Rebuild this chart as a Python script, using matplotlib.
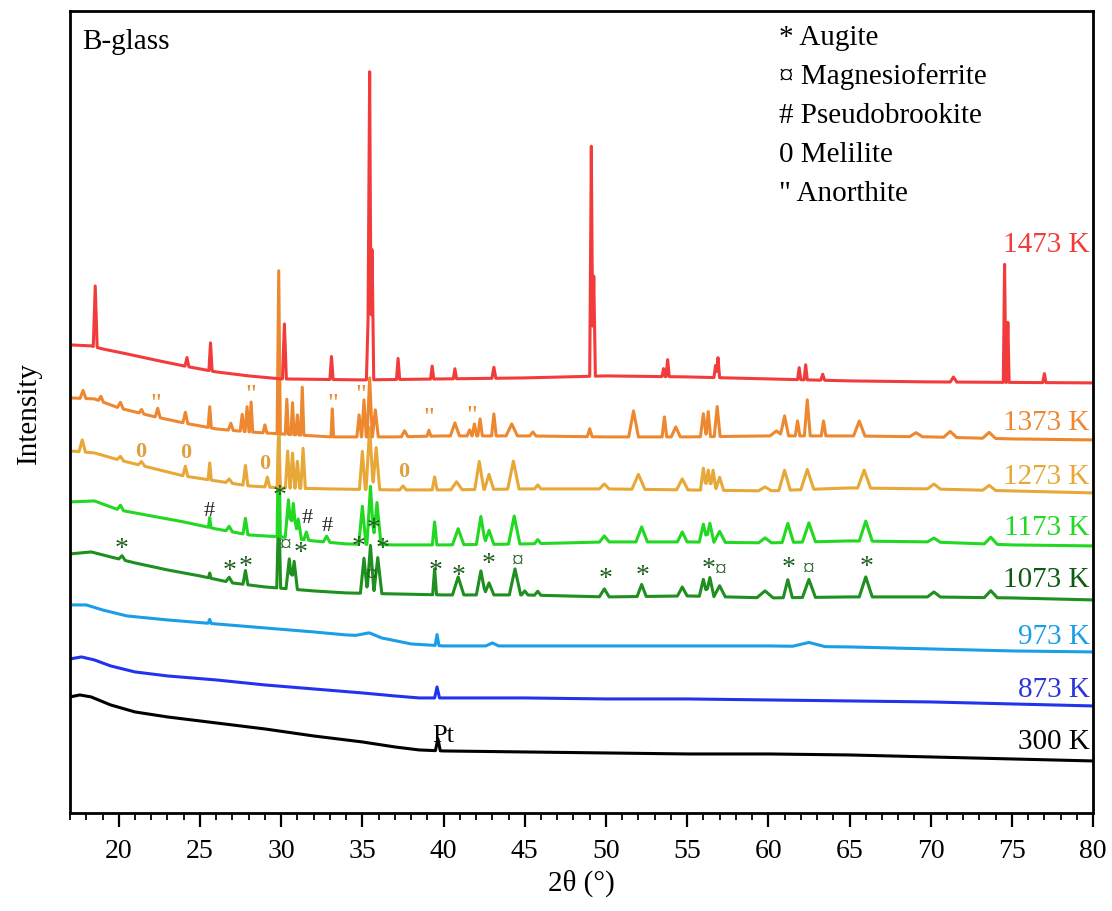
import numpy as np
import matplotlib
matplotlib.use('Agg')
import matplotlib.pyplot as plt
from matplotlib.ticker import MultipleLocator

plt.rcParams['font.family'] = ['Liberation Serif', 'DejaVu Serif']

# ---- data (2theta in degrees, intensity in arbitrary offset units) ----
temps = ['300 K', '873 K', '973 K', '1073 K', '1173 K', '1273 K', '1373 K', '1473 K']

# baselines: (2theta, intensity) anchor points
base_300 = [(17, 116), (17.6, 118), (18.3, 116), (19.5, 108), (21, 101), (23, 96), (26, 90), (29, 84),
            (32, 77), (35, 71), (37, 66), (38.5, 63), (40, 62), (45, 61), (50, 60), (55, 59), (60, 59),
            (65, 58), (70, 56), (75, 54), (80, 52)]
base_873 = [(17, 154), (17.7, 156), (18.5, 153), (19.5, 147), (21, 141), (23, 137), (26, 133), (29, 128),
            (32, 124), (35, 120), (37, 117), (38.5, 115), (40, 115), (45, 115), (50, 114), (55, 114),
            (60, 113), (65, 112), (70, 111), (75, 109), (80, 107)]
base_973 = [(17, 208), (18, 208), (19, 203), (20.5, 197), (23, 193), (26, 189), (29, 185), (32, 181),
            (34, 178), (35.5, 177), (36.5, 174), (38, 169), (40, 167), (45, 167), (50, 167), (55, 167),
            (60, 167), (65, 166), (70, 164), (75, 162), (80, 161)]
base_1073 = [(17, 259), (18.3, 261), (19.5, 256), (21, 250), (23, 243), (25, 237), (27, 230), (29, 226),
             (32, 222), (34, 220), (37, 219), (40, 218), (45, 218), (50, 216), (55, 217), (60, 215),
             (65, 216), (70, 216), (75, 215), (80, 213)]
base_1173 = [(17, 311), (18.5, 312), (20, 303), (22, 297), (24, 291), (26, 284), (28, 278), (30, 276),
             (32, 272), (34, 269), (37, 268), (40, 268), (45, 269), (50, 271), (55, 271), (60, 270),
             (65, 272), (70, 271), (75, 268), (80, 267)]
base_1273 = [(17, 362), (18.5, 360), (20, 353), (22, 345), (24, 337), (26, 332), (28, 327), (30, 325),
             (33, 324), (37, 323), (40, 323), (45, 324), (50, 324), (55, 323), (60, 322), (65, 325),
             (70, 324), (75, 322), (80, 320)]
base_1373 = [(17, 415), (18.5, 414), (20, 405), (22, 397), (24, 390), (26, 384), (28, 381), (30, 379),
             (33, 376), (37, 376), (40, 377), (45, 377), (50, 376), (55, 376), (60, 377), (65, 377),
             (70, 376), (75, 374), (80, 373)]
base_1473 = [(17, 468), (18.3, 467), (19, 464), (20.5, 459), (22.5, 452), (24, 447), (26, 441), (28, 437),
             (30, 434), (35, 433), (40, 434), (45, 435), (50, 437), (55, 436), (60, 434), (65, 432),
             (70, 431), (80, 430)]

# peaks: (2theta, height above baseline, half width)
peaks_300 = [(39.65, 12, 0.15)]
peaks_873 = [(39.6, 11, 0.15)]
peaks_973 = [(25.6, 4, 0.1), (35.4, 3, 0.8), (39.6, 11, 0.12), (43.0, 3, 0.4), (62.5, 4, 1.0)]
peaks_1073 = [(20.2, 4, 0.2), (25.6, 5, 0.08), (26.8, 5, 0.2), (27.8, 14, 0.15), (29.85, 83, 0.12),
              (30.5, 30, 0.2), (30.8, 28, 0.2), (35.1, 35, 0.22), (35.5, 48, 0.22), (35.95, 36, 0.25),
              (39.45, 26, 0.12), (40.9, 18, 0.35), (42.3, 24, 0.28), (42.8, 12, 0.3), (44.4, 26, 0.35),
              (45.0, 4, 0.2), (45.8, 4, 0.2), (49.9, 8, 0.3), (52.2, 12, 0.28), (54.7, 9, 0.3),
              (56.0, 17, 0.25), (56.4, 19, 0.25), (57.0, 11, 0.35), (59.8, 7, 0.5), (61.2, 18, 0.28),
              (62.5, 18, 0.4), (66.0, 20, 0.4), (70.2, 5, 0.4), (73.7, 7, 0.4)]
peaks_1173 = [(20.1, 5, 0.2), (25.6, 10, 0.08), (26.8, 5, 0.2), (27.8, 16, 0.15), (29.85, 115, 0.1),
              (30.45, 38, 0.2), (30.75, 35, 0.2), (31.05, 20, 0.2), (31.55, 8, 0.15), (32.8, 6, 0.2),
              (35.0, 38, 0.22), (35.5, 58, 0.22), (35.9, 42, 0.25), (39.45, 23, 0.14), (40.9, 16, 0.35),
              (42.3, 28, 0.28), (42.8, 14, 0.3), (44.35, 28, 0.35), (45.8, 4, 0.2), (49.9, 6, 0.3),
              (52.2, 15, 0.35), (54.7, 10, 0.3), (56.0, 18, 0.25), (56.4, 19, 0.25), (57.0, 11, 0.35),
              (59.8, 5, 0.4), (61.2, 19, 0.35), (62.5, 19, 0.4), (66.0, 20, 0.4), (70.2, 4, 0.4),
              (73.7, 7, 0.4)]
peaks_1273 = [(17.75, 12, 0.2), (20.1, 4, 0.2), (21.4, 4, 0.2), (24.1, 10, 0.15), (25.6, 17, 0.1),
              (26.8, 4, 0.2), (27.8, 20, 0.15), (29.15, 10, 0.15), (29.85, 59, 0.1), (30.4, 37, 0.14),
              (30.7, 35, 0.14), (31.0, 27, 0.14), (31.35, 40, 0.14), (35.0, 38, 0.18), (35.45, 62, 0.22),
              (35.85, 42, 0.22), (37.5, 4, 0.2), (39.45, 13, 0.15), (40.8, 8, 0.35), (42.2, 28, 0.28),
              (42.8, 15, 0.28), (44.3, 28, 0.35), (45.8, 4, 0.2), (49.9, 5, 0.3), (52.0, 15, 0.4),
              (54.7, 11, 0.35), (56.0, 22, 0.18), (56.3, 20, 0.18), (56.6, 20, 0.18), (57.0, 13, 0.25),
              (59.8, 4, 0.4), (61.0, 20, 0.35), (62.4, 20, 0.4), (65.9, 18, 0.4), (70.2, 5, 0.4),
              (73.6, 5, 0.4)]
peaks_1373 = [(17.8, 8, 0.18), (18.9, 5, 0.15), (20.1, 6, 0.18), (21.4, 4, 0.15), (22.4, 9, 0.15),
              (24.1, 11, 0.15), (25.6, 21, 0.1), (26.9, 7, 0.15), (27.6, 17, 0.12), (27.9, 25, 0.12),
              (28.15, 30, 0.1), (29.0, 8, 0.12), (29.85, 163, 0.1), (30.35, 35, 0.1), (30.7, 32, 0.1),
              (31.0, 20, 0.1), (31.3, 48, 0.1), (33.15, 28, 0.08), (34.8, 22, 0.14), (35.1, 37, 0.14),
              (35.45, 59, 0.16), (35.8, 27, 0.18), (37.6, 6, 0.2), (39.1, 6, 0.12), (40.7, 13, 0.28),
              (41.6, 6, 0.15), (41.9, 12, 0.14), (42.25, 17, 0.14), (43.1, 22, 0.14), (44.2, 12, 0.35),
              (45.5, 4, 0.2), (49.0, 8, 0.15), (51.7, 26, 0.3), (53.6, 20, 0.14), (54.3, 10, 0.28),
              (56.0, 23, 0.18), (56.3, 25, 0.14), (56.85, 30, 0.18), (60.5, 5, 0.4), (61.0, 20, 0.25),
              (61.8, 15, 0.14), (62.4, 36, 0.18), (63.4, 15, 0.14), (65.6, 15, 0.35), (69.1, 4, 0.4),
              (71.2, 6, 0.4), (73.6, 6, 0.4)]
peaks_1473 = [(18.55, 61, 0.12), (24.2, 9, 0.12), (25.65, 28, 0.1), (30.2, 55, 0.12), (33.1, 23, 0.1),
              (35.35, 60, 0.1), (35.45, 308, 0.1), (35.6, 130, 0.1), (37.2, 21, 0.1), (39.3, 13, 0.1),
              (40.7, 10, 0.1), (43.1, 11, 0.12), (49.1, 230, 0.1), (49.25, 100, 0.1), (53.55, 8, 0.1),
              (53.8, 17, 0.1), (56.75, 12, 0.1), (56.9, 20, 0.1), (61.9, 12, 0.1), (62.3, 15, 0.1),
              (63.35, 6, 0.12), (71.4, 5, 0.2), (74.55, 118, 0.08), (74.75, 60, 0.08), (77.0, 9, 0.1)]

bases = [base_300, base_873, base_973, base_1073, base_1173, base_1273, base_1373, base_1473]
peaks = [peaks_300, peaks_873, peaks_973, peaks_1073, peaks_1173, peaks_1273, peaks_1373, peaks_1473]
colors = ['#000000', '#2233ee', '#1a9ee8', '#1f8f1f', '#22d822', '#e8a838', '#ee8830', '#f23c3c']
label_colors = ['#000000', '#2a35d8', '#1a9ee8', '#0f5a12', '#22d822', '#e8a838', '#ee8830', '#f23c3c']
label_y = [72, 124, 177, 234, 286, 337, 391, 569]

# phase markers
augite_x = [20.19, 26.85, 27.78, 29.88, 31.2, 34.75, 35.68, 36.23, 39.5, 40.93, 42.78, 50.0, 52.28,
            56.3, 61.23, 66.05]
augite_y = [264, 242, 246, 317, 260, 266, 284, 264, 242, 237, 249, 234, 237, 244, 245, 246]
magnesio_x = [30.3, 35.56, 44.57, 57.1, 62.47]
magnesio_y = [269, 239, 253, 244, 245]
pseudo_x = [25.56, 31.6, 32.84]
pseudo_y = [302, 295, 287]
melilite_x = [21.36, 24.14, 29.0, 37.53]
melilite_y = [362, 361, 350, 342]
anorthite_x = [22.28, 28.15, 33.15, 34.88, 39.07, 41.73]
anorthite_y = [409, 418, 409, 418, 395, 397]
legend_items = ['* Augite', '\u00a4 Magnesioferrite', '# Pseudobrookite', '0 Melilite', '" Anorthite']


def build_trace(base, pk):
    bx = [b[0] for b in base]
    by = [b[1] for b in base]
    xs = set(bx)
    for p, h, w in pk:
        xs.update([p - w, p, p + w])
    xs = np.array(sorted(xs))
    ys = np.interp(xs, bx, by)
    for p, h, w in pk:
        ys = ys + h * np.clip(1 - np.abs(xs - p) / w, 0, None)
    return xs, ys


fig = plt.figure(figsize=(11.12, 9.12), dpi=100)
ax = fig.add_axes([0.063, 0.1075, 0.92, 0.8795])

for base, pk, c in zip(bases, peaks, colors):
    x, y = build_trace(base, pk)
    ax.plot(x, y, color=c, lw=2.2)

for t, ly, c in zip(temps, label_y, label_colors):
    ax.text(79.8, ly, t, color=c, fontsize=21, ha='right', va='center')

for x, y in zip(augite_x, augite_y):
    ax.text(x, y, '*', color='#1d5e1d', fontsize=20, ha='center', va='center')
for x, y in zip(magnesio_x, magnesio_y):
    ax.text(x, y, '\u00a4', color='#1d5e1d', fontsize=17, ha='center', va='center')
for x, y in zip(pseudo_x, pseudo_y):
    ax.text(x, y, '#', color='#222222', fontsize=16, ha='center', va='center')
for x, y in zip(melilite_x, melilite_y):
    ax.text(x, y, '0', color='#e0a040', fontsize=16, fontweight='bold', ha='center', va='center')
for x, y in zip(anorthite_x, anorthite_y):
    ax.text(x, y, '"', color='#ee8830', fontsize=19, ha='center', va='center')

ax.text(40.0, 78, 'Pt', fontsize=19, ha='center', va='center')
ax.text(0.012, 0.963, 'B-glass', transform=ax.transAxes, fontsize=21, ha='left', va='center')
for i, s in enumerate(legend_items):
    ax.text(0.693, 0.968 - i * 0.0487, s, transform=ax.transAxes, fontsize=21, ha='left', va='center')

ax.set_xlim(17, 80)
ax.set_ylim(0, 802)
ax.xaxis.set_minor_locator(MultipleLocator(1))
ax.set_xticks(range(20, 81, 5))
ax.set_yticks([])
ax.tick_params(axis='x', which='major', direction='out', length=10, width=1.6, labelsize=20, pad=8)
ax.tick_params(axis='x', which='minor', direction='out', length=5, width=1.3)
for s in ax.spines.values():
    s.set_linewidth(2)
ax.set_xlabel('2\u03b8 (\u00b0)', fontsize=21, labelpad=4)
ax.set_ylabel('Intensity', fontsize=21, labelpad=20)

fig.savefig('out.png', dpi=100)
